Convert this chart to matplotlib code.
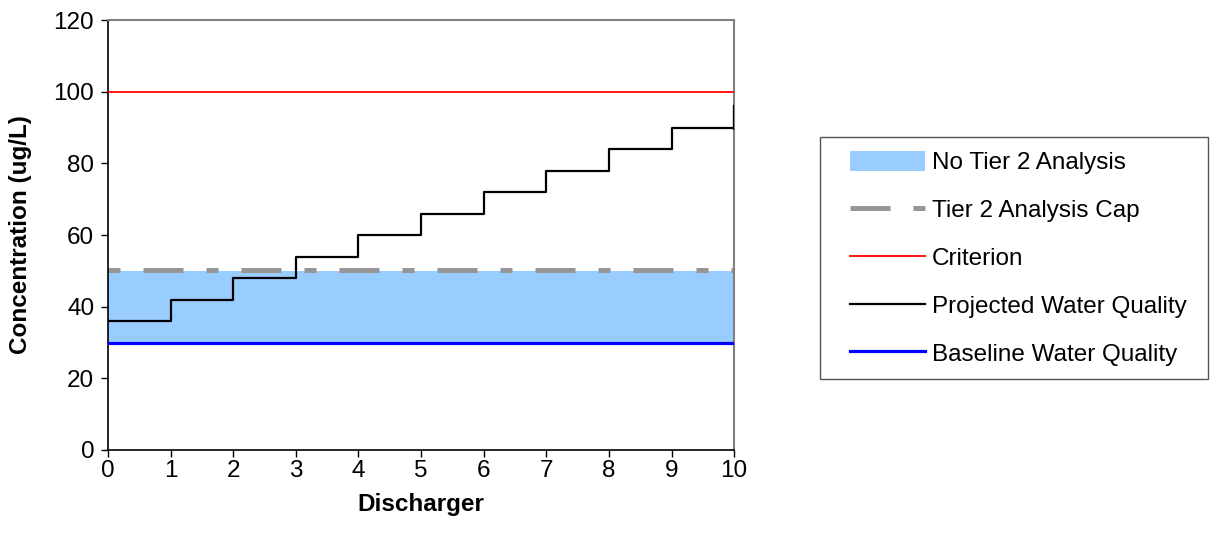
import numpy as np
import matplotlib.pyplot as plt
from matplotlib.patches import Patch, Rectangle
from matplotlib.lines import Line2D

plt.rcParams['font.family'] = ['Liberation Sans', 'DejaVu Sans']

# data
dischargers = [0, 1, 2, 3, 4, 5, 6, 7, 8, 9, 10]
projected = [36, 42, 48, 54, 60, 66, 72, 78, 84, 90, 96]
baseline = 30
tier2_cap = 50
criterion = 100

fs = 17.5
cap_dash = (2.4, 4.6, 8, 4.6)

fig = plt.figure(figsize=(12.1, 5.44), dpi=100)
ax = fig.add_axes([0.0893, 0.1728, 0.5174, 0.7904])

x = np.array(dischargers)
ax.fill_between(x, baseline, tier2_cap, color='#99ccff', lw=0, zorder=1)
ax.plot(x, np.full(len(x), tier2_cap + 0.3), color='#969696', lw=3.6,
        dashes=cap_dash, dash_capstyle='butt', zorder=2)
ax.plot(x, np.full(len(x), criterion), color='#ff0000', lw=1.3, zorder=3)
ax.step(x, projected, where='post', color='black', lw=1.6, zorder=4)
ax.plot([x[-1], x[-1]], [projected[-2], projected[-1]], color='black', lw=2.2, zorder=4)
ax.plot(x, np.full(len(x), baseline), color='#0000ff', lw=2.3, zorder=5)

ax.set_xlim(0, 10)
ax.set_ylim(0, 120)
ax.set_xticks(dischargers)
ax.set_yticks(range(0, 121, 20))
ax.tick_params(direction='out', length=5, width=1, labelsize=fs)
ax.tick_params(axis='x', pad=2.5)
ax.tick_params(axis='y', pad=5)
ax.set_xlabel('Discharger', fontsize=fs, fontweight='bold')
ax.set_ylabel('Concentration (ug/L)', fontsize=fs, fontweight='bold')
ax.xaxis.set_label_coords(0.5, -0.1)
ax.yaxis.set_label_coords(-0.122, 0.5)
for s in ['top', 'right']:
    ax.spines[s].set_color('#808080')
    ax.spines[s].set_linewidth(1.5)
for s in ['left', 'bottom']:
    ax.spines[s].set_linewidth(1.2)

handles = [
    Patch(facecolor='#99ccff', edgecolor='none'),
    Line2D([], [], color='#969696', lw=3.6, dashes=(8, 4.6, 2.4, 4.6), dash_capstyle='butt'),
    Line2D([], [], color='#ff0000', lw=1.3),
    Line2D([], [], color='black', lw=1.6),
    Line2D([], [], color='#0000ff', lw=2.3),
]
labels = ['No Tier 2 Analysis', 'Tier 2 Analysis Cap', 'Criterion',
          'Projected Water Quality', 'Baseline Water Quality']
leg = fig.legend(handles, labels, loc='upper left', bbox_to_anchor=(850 / 1210, 1 - 151 / 544),
                 fontsize=fs, frameon=False, handlelength=3.1, handleheight=0.9,
                 labelspacing=1.0, borderpad=0, handletextpad=0.28, borderaxespad=0)
# legend frame
fig.add_artist(Rectangle((820 / 1210, 1 - 379 / 544), 388 / 1210, 242 / 544,
                         transform=fig.transFigure, fill=False, ec='#555555', lw=1.0))

fig.savefig('out.png', dpi=100)
